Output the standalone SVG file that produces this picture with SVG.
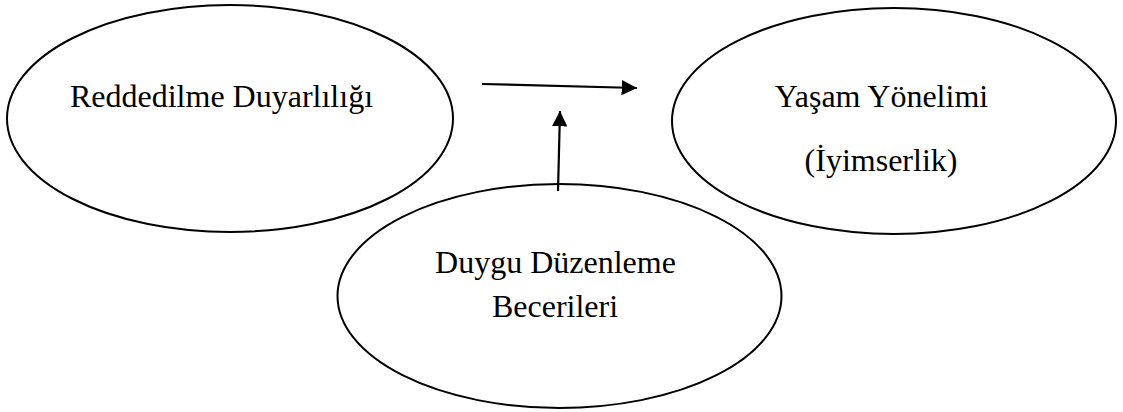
<svg xmlns="http://www.w3.org/2000/svg" width="1123" height="412" viewBox="0 0 1123 412">
<style>
.node ellipse{fill:#fff;stroke:#000;stroke-width:2}
text{font-family:"Liberation Serif","Times New Roman",serif;font-size:32px;fill:#000;text-anchor:middle}
.conn line{stroke:#000;stroke-width:2.2}
</style>
<defs>
<marker id="ah" viewBox="0 0 10 10" refX="10" refY="5" markerWidth="7" markerHeight="7" orient="auto" markerUnits="strokeWidth">
<path d="M0,0 L10,5 L0,10 z" fill="#000"/>
</marker>
</defs>
<rect width="1123" height="412" fill="#fff"/>
<g id="node-reddedilme" class="node">
<ellipse cx="230" cy="118.5" rx="223" ry="113.5"/>
<text x="221.5" y="107">Reddedilme Duyarlılığı</text>
</g>
<g id="node-yasam" class="node">
<ellipse cx="894" cy="121" rx="222" ry="113"/>
<text x="881.5" y="107">Yaşam Yönelimi</text>
<text x="881" y="171">(İyimserlik)</text>
</g>
<g id="node-duygu" class="node">
<ellipse cx="559.5" cy="296" rx="222" ry="112"/>
<text x="555.5" y="273">Duygu Düzenleme</text>
<text x="555" y="317">Becerileri</text>
</g>
<g id="connectors" class="conn">
<line x1="482" y1="84" x2="637" y2="88" marker-end="url(#ah)"/>
<line x1="558" y1="191" x2="560" y2="111" marker-end="url(#ah)"/>
</g>
</svg>
